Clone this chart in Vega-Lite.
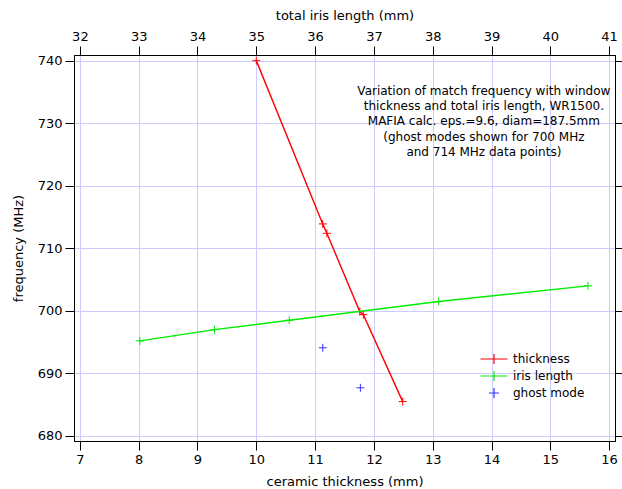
{
  "$schema": "https://vega.github.io/schema/vega-lite/v6.json",
  "width": 541,
  "height": 386,
  "autosize": {"type": "none"},
  "padding": {"left": 74, "top": 55, "right": 7, "bottom": 48},
  "background": "white",
  "config": {
    "font": "DejaVu Sans",
    "view": {"stroke": "black", "strokeWidth": 1},
    "axis": {
      "domainColor": "black",
      "tickColor": "black",
      "labelColor": "black",
      "titleColor": "black",
      "titleFontWeight": "normal",
      "labelFontSize": 13,
      "titleFontSize": 13,
      "labelFont": "DejaVu Sans",
      "titleFont": "DejaVu Sans",
      "tickSize": 9,
      "gridColor": "#ccccff",
      "gridOpacity": 1,
      "gridWidth": 1
    }
  },
  "datasets": {
    "thickness": [
      {"series": "thickness", "thickness_mm": 10.0, "freq": 740.0},
      {"series": "thickness", "thickness_mm": 11.13, "freq": 713.9},
      {"series": "thickness", "thickness_mm": 11.2, "freq": 712.4},
      {"series": "thickness", "thickness_mm": 11.76, "freq": 699.9},
      {"series": "thickness", "thickness_mm": 11.82, "freq": 699.4},
      {"series": "thickness", "thickness_mm": 12.49, "freq": 685.5}
    ],
    "iris": [
      {"series": "iris length", "iris_mm": 33.02, "freq": 695.2},
      {"series": "iris length", "iris_mm": 34.29, "freq": 697.0},
      {"series": "iris length", "iris_mm": 35.56, "freq": 698.5},
      {"series": "iris length", "iris_mm": 38.10, "freq": 701.5},
      {"series": "iris length", "iris_mm": 40.64, "freq": 704.0}
    ],
    "ghost": [
      {"series": "ghost mode", "thickness_mm": 11.13, "freq": 694.1},
      {"series": "ghost mode", "thickness_mm": 11.77, "freq": 687.7}
    ]
  },
  "layer": [
    {
      "layer": [
        {
          "data": {"name": "thickness"},
          "mark": {"type": "line", "strokeWidth": 1.4},
          "encoding": {
            "x": {"field": "thickness_mm", "type": "quantitative"},
            "y": {"field": "freq", "type": "quantitative"},
            "color": {"field": "series", "type": "nominal"}
          }
        },
        {
          "data": {"name": "thickness"},
          "mark": {"type": "point", "shape": "M-1,0H1M0,-1V1", "filled": false, "size": 64, "strokeWidth": 1, "opacity": 1},
          "encoding": {
            "x": {"field": "thickness_mm", "type": "quantitative"},
            "y": {"field": "freq", "type": "quantitative"},
            "color": {"field": "series", "type": "nominal"}
          }
        },
        {
          "data": {"name": "ghost"},
          "mark": {"type": "point", "shape": "M-1,0H1M0,-1V1", "filled": false, "size": 64, "strokeWidth": 1, "opacity": 1},
          "encoding": {
            "x": {"field": "thickness_mm", "type": "quantitative"},
            "y": {"field": "freq", "type": "quantitative"},
            "color": {"field": "series", "type": "nominal"}
          }
        },
        {
          "data": {"values": [{"note": "annotation"}]},
          "mark": {"type": "text", "align": "center", "baseline": "middle", "fontSize": 12, "lineHeight": 15.3, "font": "DejaVu Sans", "color": "black"},
          "encoding": {
            "x": {"datum": 13.87, "type": "quantitative"},
            "y": {"datum": 735.2, "type": "quantitative"},
            "text": {"value": [
              "Variation of match frequency with window",
              "thickness and total iris length, WR1500.",
              "MAFIA calc. eps.=9.6, diam=187.5mm",
              "(ghost modes shown for 700 MHz",
              "and 714 MHz data points)"
            ]}
          }
        }
      ],
      "encoding": {
        "x": {
          "type": "quantitative",
          "scale": {"domain": [6.9, 16.1], "nice": false, "zero": false},
          "axis": {"orient": "bottom", "title": "ceramic thickness (mm)", "values": [7, 8, 9, 10, 11, 12, 13, 14, 15, 16], "format": "d", "labelPadding": 3, "titlePadding": 9, "grid": true}
        },
        "y": {
          "type": "quantitative",
          "scale": {"domain": [679.2, 740.9], "nice": false, "zero": false},
          "axis": {"orient": "left", "title": "frequency (MHz)", "values": [680, 690, 700, 710, 720, 730, 740], "format": "d", "labelPadding": 3, "titlePadding": 12, "grid": true}
        },
        "color": {
          "type": "nominal",
          "scale": {"domain": ["thickness", "iris length", "ghost mode"], "range": ["#ff0000", "#00ee00", "#3333ff"]},
          "legend": {
            "title": null,
            "orient": "none",
            "legendX": 414,
            "legendY": 298,
            "padding": 0,
            "symbolSize": 100,
            "symbolStrokeWidth": 1.2,
            "labelOffset": 13,
            "rowPadding": 1,
            "labelFontSize": 12,
            "labelFont": "DejaVu Sans",
            "labelColor": "black",
            "encode": {
              "symbols": {
                "update": {
                  "shape": {"signal": "datum.value === 'ghost mode' ? 'M-1,0H1M0,-1V1' : 'M-2.7,0H2.7M0,-1V1'"},
                  "fill": {"value": "transparent"}
                }
              }
            }
          }
        }
      }
    },
    {
      "layer": [
        {
          "data": {"name": "iris"},
          "mark": {"type": "line", "strokeWidth": 1.4},
          "encoding": {
            "x": {"field": "iris_mm", "type": "quantitative"},
            "y": {"field": "freq", "type": "quantitative"},
            "color": {"field": "series", "type": "nominal"}
          }
        },
        {
          "data": {"name": "iris"},
          "mark": {"type": "point", "shape": "M-1,0H1M0,-1V1", "filled": false, "size": 64, "strokeWidth": 1, "opacity": 1},
          "encoding": {
            "x": {"field": "iris_mm", "type": "quantitative"},
            "y": {"field": "freq", "type": "quantitative"},
            "color": {"field": "series", "type": "nominal"}
          }
        }
      ],
      "encoding": {
        "x": {
          "type": "quantitative",
          "scale": {"domain": [31.9, 41.1], "nice": false, "zero": false},
          "axis": {"orient": "top", "title": "total iris length (mm)", "values": [32, 33, 34, 35, 36, 37, 38, 39, 40, 41], "format": "d", "labelPadding": 3, "titlePadding": 8, "grid": false}
        },
        "y": {
          "type": "quantitative",
          "scale": {"domain": [679.2, 740.9], "nice": false, "zero": false},
          "axis": {"orient": "right", "title": null, "labels": false, "values": [680, 690, 700, 710, 720, 730, 740], "grid": false}
        },
        "color": {
          "type": "nominal",
          "scale": {"domain": ["thickness", "iris length", "ghost mode"], "range": ["#ff0000", "#00ee00", "#3333ff"]},
          "legend": {
            "title": null,
            "orient": "none",
            "legendX": 414,
            "legendY": 298,
            "padding": 0,
            "symbolSize": 100,
            "symbolStrokeWidth": 1.2,
            "labelOffset": 13,
            "rowPadding": 1,
            "labelFontSize": 12,
            "labelFont": "DejaVu Sans",
            "labelColor": "black",
            "encode": {
              "symbols": {
                "update": {
                  "shape": {"signal": "datum.value === 'ghost mode' ? 'M-1,0H1M0,-1V1' : 'M-2.7,0H2.7M0,-1V1'"},
                  "fill": {"value": "transparent"}
                }
              }
            }
          }
        }
      }
    }
  ],
  "resolve": {"scale": {"x": "independent"}, "axis": {"x": "independent", "y": "independent"}}
}
